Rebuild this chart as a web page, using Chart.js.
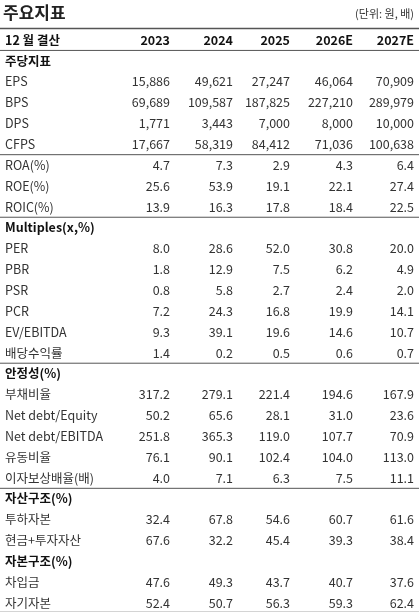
<!DOCTYPE html>
<html><head><meta charset="utf-8">
<script src="https://cdn.jsdelivr.net/npm/chart.js@4"></script>
<style>body{margin:0;background:#fff}canvas{display:block}</style>
</head><body>
<canvas id="tbl" width="419" height="612"></canvas>
<script>
const years = ["2023", "2024", "2025", "2026E", "2027E"];
const rowLabels = ["12 월 결산", "주당지표", "EPS", "BPS", "DPS", "CFPS", "ROA(%)", "ROE(%)", "ROIC(%)",
  "Multiples(x,%)", "PER", "PBR", "PSR", "PCR", "EV/EBITDA", "배당수익률",
  "안정성(%)", "부채비율", "Net debt/Equity", "Net debt/EBITDA", "유동비율", "이자보상배율(배)",
  "자산구조(%)", "투하자본", "현금+투자자산", "자본구조(%)", "차입금", "자기자본"];
const sectionRows = ["12 월 결산", "주당지표", "Multiples(x,%)", "안정성(%)", "자산구조(%)", "자본구조(%)"];
// rows after which a rule is drawn
const ruleAfter = ["12 월 결산", "CFPS", "ROIC(%)", "배당수익률", "이자보상배율(배)"];

const v2023 = [null, null, "15,886", "69,689", "1,771", "17,667", "4.7", "25.6", "13.9", null, "8.0", "1.8", "0.8", "7.2", "9.3", "1.4", null, "317.2", "50.2", "251.8", "76.1", "4.0", null, "32.4", "67.6", null, "47.6", "52.4"];
const v2024 = [null, null, "49,621", "109,587", "3,443", "58,319", "7.3", "53.9", "16.3", null, "28.6", "12.9", "5.8", "24.3", "39.1", "0.2", null, "279.1", "65.6", "365.3", "90.1", "7.1", null, "67.8", "32.2", null, "49.3", "50.7"];
const v2025 = [null, null, "27,247", "187,825", "7,000", "84,412", "2.9", "19.1", "17.8", null, "52.0", "7.5", "2.7", "16.8", "19.6", "0.5", null, "221.4", "28.1", "119.0", "102.4", "6.3", null, "54.6", "45.4", null, "43.7", "56.3"];
const v2026 = [null, null, "46,064", "227,210", "8,000", "71,036", "4.3", "22.1", "18.4", null, "30.8", "6.2", "2.4", "19.9", "14.6", "0.6", null, "194.6", "31.0", "107.7", "104.0", "7.5", null, "60.7", "39.3", null, "40.7", "59.3"];
const v2027 = [null, null, "70,909", "289,979", "10,000", "100,638", "6.4", "27.4", "22.5", null, "20.0", "4.9", "2.0", "14.1", "10.7", "0.7", null, "167.9", "23.6", "70.9", "113.0", "11.1", null, "61.6", "38.4", null, "37.6", "62.4"];
const series = [v2023, v2024, v2025, v2026, v2027];

// right edges of value columns
const colRight = [170, 233, 290, 353, 414];
const FONT = '"Noto Sans CJK KR", "Noto Sans", sans-serif';

const tablePlugin = {
  id: 'tablePlugin',
  afterDraw(chart) {
    const ctx = chart.ctx, y = chart.scales.y, x = chart.scales.x;
    ctx.save();
    ctx.textBaseline = 'middle';
    ctx.fillStyle = '#222';
    ctx.font = 'bold 17px ' + FONT;
    ctx.textAlign = 'left';
    ctx.fillText('주요지표', x.getPixelForValue(3), 13);
    ctx.font = '11px ' + FONT;
    ctx.textAlign = 'right';
    ctx.fillStyle = '#333';
    ctx.fillText('(단위: 원, 배)', x.getPixelForValue(414), 14);

    const pitch = y.getPixelForValue(1) - y.getPixelForValue(0);
    ctx.strokeStyle = '#555';
    ctx.lineWidth = 1.5;
    const hline = (py) => { ctx.beginPath(); ctx.moveTo(x.left, py); ctx.lineTo(x.right, py); ctx.stroke(); };
    hline(y.getPixelForValue(0) - pitch / 2 - 1);
    hline(y.getPixelForValue(rowLabels.length - 1) + pitch / 2 - 1);
    ctx.lineWidth = 1;
    ruleAfter.forEach(l => hline(y.getPixelForValue(rowLabels.indexOf(l)) + pitch / 2));

    rowLabels.forEach((label, i) => {
      const py = y.getPixelForValue(i);
      const isSec = sectionRows.includes(label);
      ctx.fillStyle = isSec ? '#111' : '#333';
      ctx.font = (isSec ? 'bold ' : '') + '12.5px ' + FONT;
      ctx.textAlign = 'left';
      ctx.fillText(label, x.getPixelForValue(5), py);
      if (i === 0) {
        ctx.font = 'bold 12.5px ' + FONT;
        ctx.textAlign = 'right';
        years.forEach((yr, c) => ctx.fillText(yr, x.getPixelForValue(colRight[c]), py));
        return;
      }
      ctx.font = '12.5px ' + FONT;
      ctx.textAlign = 'right';
      series.forEach((s, c) => { if (s[i] != null) ctx.fillText(s[i], x.getPixelForValue(colRight[c]), py); });
    });
    ctx.restore();
  }
};

new Chart(document.getElementById('tbl'), {
  type: 'scatter',
  data: { datasets: [] },
  options: {
    responsive: false,
    animation: false,
    layout: { padding: { top: 40, bottom: 9, left: 0, right: 0 } },
    plugins: { legend: { display: false }, tooltip: { enabled: false } },
    scales: {
      x: { type: 'linear', min: 0, max: 419, display: false },
      y: { type: 'category', labels: rowLabels, offset: false, display: false }
    }
  },
  plugins: [tablePlugin]
});
</script>
</body></html>
